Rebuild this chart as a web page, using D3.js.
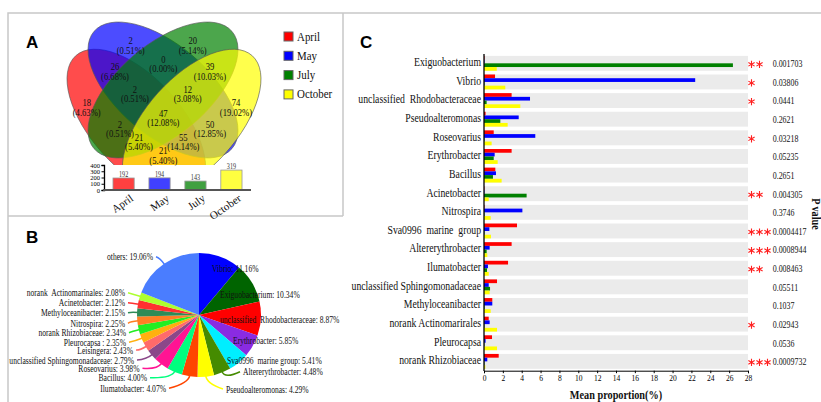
<!DOCTYPE html>
<html>
<head>
<meta charset="utf-8">
<script src="https://cdn.jsdelivr.net/npm/d3@7"></script>
<style>
  body { margin: 0; background: #fff; }
  svg { display: block; font-family: "Liberation Serif", "Times New Roman", serif; }
  text { white-space: pre; }
  .panel-tag { font-family: "Liberation Sans", Arial, sans-serif; font-weight: bold; font-size: 17px; }
</style>
</head>
<body>
<svg id="fig" width="821" height="402"></svg>
<script>
// ---- data ----
const months = ['April', 'May', 'July', 'October'];

// venn region counts: single sets, then overlaps
const vennRegions = ['April', 'May', 'July', 'October', 'April&May', 'May&July', 'July&October',
  'April&May&July', 'May&July&October', 'all', 'April&July', 'May&October',
  'April&July&October', 'April&May&October', 'April&October'];
const vennCounts = [18, 2, 20, 74, 26, 0, 39, 2, 12, 47, 2, 50, 21, 55, 21];
const setSizes = [192, 194, 143, 319];
const setTicks = [0, 100, 200, 300, 400];

const pieNames = ['Vibrio', 'Exiguobacterium', 'unclassified  Rhodobacteraceae', 'Erythrobacter',
  'Sva0996  marine group', 'Altererythrobacter', 'Pseudoalteromonas', 'Ilumatobacter', 'Bacillus',
  'Roseovarius', 'unclassified Sphingomonadaceae', 'Leisingera', 'Pleurocapsa ', 'norank Rhizobiaceae',
  'Nitrospira', 'Methyloceanibacter', 'Acinetobacter', 'norank  Actinomarinales', 'others'];
const piePercent = [11.16, 10.34, 8.87, 5.85, 5.41, 4.48, 4.29, 4.07, 4.00, 3.98, 2.79, 2.43, 2.35,
  2.34, 2.25, 2.15, 2.12, 2.08, 19.06];

const genera = ['Exiguobacterium', 'Vibrio', 'unclassified  Rhodobacteraceae', 'Pseudoalteromonas',
  'Roseovarius', 'Erythrobacter', 'Bacillus', 'Acinetobacter', 'Nitrospira', 'Sva0996  marine  group',
  'Altererythrobacter', 'Ilumatobacter', 'unclassified Sphingomonadaceae', 'Methyloceanibacter',
  'norank Actinomarirales', 'Pleurocapsa', 'norank Rhizobiaceae'];
const aprilMean   = [0.05, 1.17, 2.93, 0.17, 1.03, 2.93, 1.20, 0.04, 0.05, 3.50, 2.93, 2.55, 1.38, 0.88, 0.50, 0.85, 1.56];
const mayMean     = [0.05, 22.4, 4.88, 3.68, 5.44, 1.13, 1.27, 0.04, 4.07, 0.57, 0.60, 0.42, 0.50, 0.88, 0.60, 0.17, 0.35];
const julyMean    = [26.4, 0.05, 0.28, 1.73, 0.05, 1.03, 0.95, 4.52, 0.05, 0.05, 0.28, 0.32, 0.64, 0.05, 0.04, 0.04, 0.04];
const octoberMean = [1.35, 2.26, 3.85, 2.51, 0.81, 1.45, 1.87, 0.50, 0.71, 0.74, 0.35, 0.50, 0.60, 0.71, 1.38, 1.38, 0.14];
const pValues = ['0.001703', '0.03806', '0.0441', '0.2621', '0.03218', '0.05235', '0.2651', '0.004305',
  '0.3746', '0.0004417', '0.0008944', '0.008463', '0.05511', '0.1037', '0.02943', '0.0536', '0.0009732'];
const propTicks = d3.range(0, 29, 2);

// ---- styles / layout ----
const monthFill = ['#ff0000', '#0000ff', '#008000', '#ffff00'];
const pieColors = ['#0000ff', '#006400', '#ff0000', '#8a2be2', '#00eeff', '#458b00', '#ffff00', '#ff4500',
  '#00ff7f', '#ff1493', '#8b4789', '#ff6a6a', '#ffb00f', '#22ee22', '#ff7f24', '#2e8b57', '#ff3030',
  '#adff2f', '#4a7dff'];

const svg = d3.select('#fig');

// squeezed text, the figure's lettering is narrow
function label(g, x, y, s, size, o = {}) {
  const t = g.append('text')
    .attr('transform', `translate(${x},${y})${o.rot ? ` rotate(${o.rot})` : ''} scale(${o.sx ?? 0.82},1)`)
    .attr('text-anchor', o.anchor || 'start')
    .attr('dy', o.dy ?? '0.35em')
    .attr('font-size', size)
    .attr('fill', o.fill || '#111')
    .text(s);
  if (o.bold) t.attr('font-weight', 'bold');
  return t;
}

// panel frames
svg.append('path')
  .attr('d', 'M8,402V13H821M343,13V216M8,216H343')
  .attr('fill', 'none').attr('stroke', '#c8c8c8').attr('stroke-width', 1.5);

svg.append('text').attr('class', 'panel-tag').attr('x', 26).attr('y', 48).text('A');
svg.append('text').attr('class', 'panel-tag').attr('x', 26).attr('y', 243).text('B');
svg.append('text').attr('class', 'panel-tag').attr('x', 360).attr('y', 48).text('C');

// ================= A: venn =================
// outer pair (April, October) and inner pair (May, July)
const vennLayout = [
  { cx: 136.3, cy: 123, rot: 48 },
  { cx: 163, cy: 90, rot: 40.3 },
  { cx: 163, cy: 90, rot: -40.3 },
  { cx: 191.7, cy: 123, rot: -48 }
];
const ellA = 90.5, ellB = 45.3;

svg.append('clipPath').attr('id', 'vennClip')
  .append('rect').attr('x', 10).attr('y', 14).attr('width', 330).attr('height', 151);

const venn = svg.append('g').attr('clip-path', 'url(#vennClip)');
venn.selectAll('ellipse').data(vennLayout).join('ellipse')
  .attr('transform', d => `translate(${d.cx},${d.cy}) rotate(${d.rot})`)
  .attr('rx', ellA).attr('ry', ellB)
  .attr('fill', (d, i) => monthFill[i])
  .attr('fill-opacity', 0.7)
  .attr('stroke', '#555').attr('stroke-width', 0.6);

const vennLabelPos = [[86.7, 102.7], [130.7, 40.7], [192.7, 40.7], [236, 102.7], [115, 66.7],
  [163.3, 59.3], [210, 66.7], [135, 89.3], [187.7, 89.3], [163.3, 113.3], [120, 124], [210, 124],
  [139, 137.3], [183.3, 137.3], [163.3, 150.7]];
const vennTotal = d3.sum(vennCounts);
const pct = d3.format('.2%');
const vl = svg.append('g');
vennCounts.forEach((c, i) => {
  const [x, y] = vennLabelPos[i];
  label(vl, x, y, String(c), 10.5, { anchor: 'middle' });
  label(vl, x, y + 9.5, `(${pct(c / vennTotal)})`, 10.5, { anchor: 'middle' });
});

// legend
const legend = svg.append('g');
months.forEach((m, i) => {
  legend.append('rect').attr('x', 284).attr('y', 32 + i * 19.3).attr('width', 9).attr('height', 9)
    .attr('fill', monthFill[i]).attr('stroke', '#666').attr('stroke-width', 1);
  label(legend, 297, 36.5 + i * 19.3, m, 11.5, { sx: 0.95 });
});

// set size bars
const xb = d3.scaleBand().domain(months).range([104, 251]).paddingInner(0.41).paddingOuter(0.25);
const yb = d3.scaleLinear().domain([0, 400]).range([190, 165]);
const sb = svg.append('g');
sb.selectAll('rect').data(setSizes).join('rect')
  .attr('x', (d, i) => xb(months[i])).attr('width', xb.bandwidth())
  .attr('y', d => yb(d)).attr('height', d => yb(0) - yb(d))
  .attr('fill', (d, i) => monthFill[i]).attr('fill-opacity', 0.75)
  .attr('stroke', '#999').attr('stroke-width', 0.8);
setSizes.forEach((v, i) => {
  label(sb, xb(months[i]) + xb.bandwidth() / 2, yb(v) - 3.5, String(v), 7.5, { anchor: 'middle', fill: '#333' });
  label(sb, xb(months[i]) + xb.bandwidth() / 2 + 7, 195, months[i], 11,
    { anchor: 'end', rot: -35, sx: 1, dy: '0.55em' });
});
const ybAxis = sb.append('g').attr('transform', 'translate(104,0)')
  .call(d3.axisLeft(yb).tickValues(setTicks).tickSize(2.5).tickPadding(1.5));
ybAxis.selectAll('text').attr('font-size', 6.5).attr('font-family', 'Liberation Serif');
ybAxis.select('.domain').attr('stroke-width', 1.3);
sb.append('line').attr('x1', 103).attr('x2', 251).attr('y1', yb(0)).attr('y2', yb(0))
  .attr('stroke', '#555').attr('stroke-width', 2);

// ================= B: pie =================
const pieR = 62, pieCx = 199, pieCy = 315;
const slices = d3.pie().sort(null).value(d => d)(piePercent);
const arc = d3.arc().innerRadius(0).outerRadius(pieR);
const pg = svg.append('g').attr('transform', `translate(${pieCx},${pieCy})`);
pg.selectAll('path.slice').data(slices).join('path').attr('class', 'slice')
  .attr('d', arc).attr('fill', (d, i) => pieColors[i]);

// label anchor points [x, y, anchor]
const pieLabelPos = [
  [212, 268.3, 'start'], [220, 294.3, 'start'], [220, 319, 'start'], [233, 340, 'start'],
  [227, 360, 'start'], [243, 371.7, 'start'], [226, 389, 'start'], [166, 388.3, 'end'],
  [147, 377.7, 'end'], [139.5, 368.3, 'end'], [134, 360, 'end'], [133, 350, 'end'],
  [126, 342.3, 'end'], [126, 332.7, 'end'], [125, 323.3, 'end'], [125, 312.7, 'end'],
  [125, 302.7, 'end'], [125, 292.7, 'end'], [153, 256.7, 'end']
];
const pl = svg.append('g');
slices.forEach((d, i) => {
  const [x, y, anchor] = pieLabelPos[i];
  if (i >= 5) {
    const m = (d.startAngle + d.endAngle) / 2;
    const p1 = [pieCx + Math.sin(m) * (pieR - 1), pieCy - Math.cos(m) * (pieR - 1)];
    const p2 = [pieCx + Math.sin(m) * (pieR + 7), pieCy - Math.cos(m) * (pieR + 7)];
    const p3 = [anchor === 'end' ? x + 3 : x - 3, y];
    pl.append('path')
      .attr('d', `M${p1}Q${p2} ${p3}`)
      .attr('fill', 'none').attr('stroke', pieColors[i]).attr('stroke-width', 1.5);
  }
  label(pl, x, y, `${pieNames[i]}: ${d3.format('.2f')(piePercent[i])}%`, 10, { anchor, sx: 0.76 });
});

// ================= C: mean proportions =================
const x = d3.scaleLinear().domain([0, 28]).range([484, 748]);
const y = d3.scaleBand().domain(genera).range([54, 370.7]).paddingInner(0.2).paddingOuter(0.1);
const yi = d3.scaleBand().domain(months).range([0, y.bandwidth()]);
const series = [aprilMean, mayMean, julyMean, octoberMean];

const cg = svg.append('g');
cg.selectAll('rect.bg').data(genera).join('rect').attr('class', 'bg')
  .attr('x', x(0)).attr('width', x(28) - x(0))
  .attr('y', d => y(d)).attr('height', y.bandwidth())
  .attr('fill', '#ebebeb');

months.forEach((m, k) => {
  cg.selectAll(`rect.s${k}`).data(series[k]).join('rect').attr('class', `s${k}`)
    .attr('x', x(0)).attr('width', d => x(d) - x(0))
    .attr('y', (d, i) => y(genera[i]) + yi(m)).attr('height', yi.bandwidth())
    .attr('fill', monthFill[k]);
});

const xAxis = cg.append('g').attr('transform', `translate(0,${370.7})`)
  .call(d3.axisBottom(x).tickValues(propTicks).tickSize(2.5).tickPadding(2));
xAxis.selectAll('text').attr('font-size', 7.5).attr('font-family', 'Liberation Serif');

cg.append('line').attr('x1', x(0)).attr('x2', x(0)).attr('y1', 54).attr('y2', 371)
  .attr('stroke', '#000').attr('stroke-width', 1.3);

const star = d3.symbol().type(d3.symbolAsterisk).size(36);
genera.forEach((g, i) => {
  const cy = y(g) + y.bandwidth() / 2;
  label(cg, 481, cy - 1.5, g, 12.5, { anchor: 'end', sx: 0.78 });
  label(cg, 772.7, cy, pValues[i], 11, { sx: 0.72 });
  const p = +pValues[i];
  const n = p < 0.001 ? 3 : p < 0.01 ? 2 : p < 0.05 ? 1 : 0;
  for (let j = 0; j < n; j++) {
    cg.append('path').attr('d', star)
      .attr('transform', `translate(${751.5 + j * 8},${cy + 1})`)
      .attr('fill', 'none').attr('stroke', '#ff2020').attr('stroke-width', 1.1);
  }
});

label(cg, 616, 395, 'Mean proportion(%)', 12.5, { anchor: 'middle', bold: true });
label(cg, 812, 214, 'P value', 12.5, { anchor: 'middle', bold: true, rot: 90, dy: 0 });
</script>
</body>
</html>
